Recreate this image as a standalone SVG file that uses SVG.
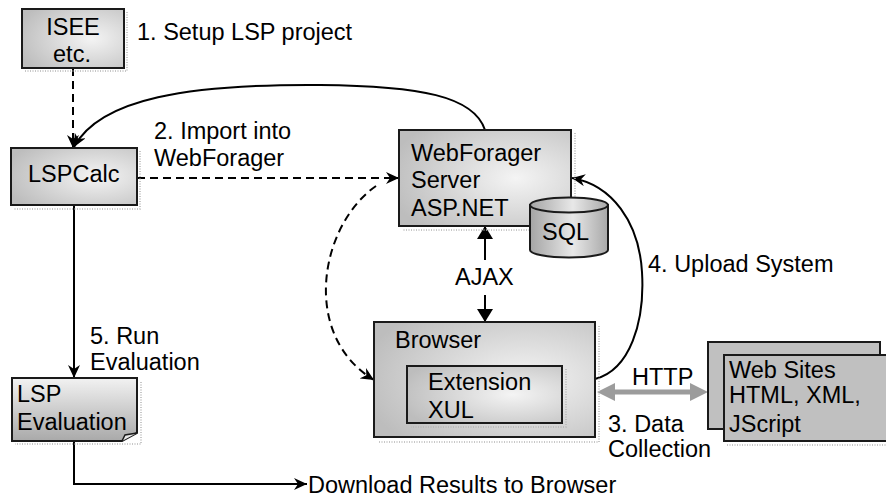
<svg xmlns="http://www.w3.org/2000/svg" width="886" height="497" viewBox="0 0 886 497">
  <defs>
    <radialGradient id="boxFill" cx="0.68" cy="0.5" r="0.75">
      <stop offset="0" stop-color="#f4f4f4"/>
      <stop offset="1" stop-color="#bdbdbd"/>
    </radialGradient>
    <linearGradient id="docFill" x1="0" y1="0" x2="0" y2="1">
      <stop offset="0" stop-color="#f2f2f2"/>
      <stop offset="1" stop-color="#a9a9a9"/>
    </linearGradient>
    <linearGradient id="cylFill" x1="0" y1="0" x2="1" y2="0">
      <stop offset="0" stop-color="#a4a4a4"/>
      <stop offset="0.55" stop-color="#e8e8e8"/>
      <stop offset="1" stop-color="#a8a8a8"/>
    </linearGradient>
    <marker id="barb" viewBox="0 0 13 12" refX="13" refY="6" markerWidth="13" markerHeight="12" markerUnits="userSpaceOnUse" orient="auto">
      <path d="M0,0 L13,6 L0,12 L4,6 Z" fill="#000"/>
    </marker>
    <marker id="tri" viewBox="0 0 13 16" refX="13" refY="8" markerWidth="13" markerHeight="16" markerUnits="userSpaceOnUse" orient="auto">
      <path d="M0,0 L13,8 L0,16 Z" fill="#000"/>
    </marker>
  </defs>
  <style>
    text { font-family: "Liberation Sans", Arial, sans-serif; font-size: 23.5px; fill: #000; }
    .box { fill: url(#boxFill); stroke: #1a1a1a; stroke-width: 2; }
    .shadow { fill: none; stroke: #b5b5b5; stroke-width: 1.5; stroke-dasharray: 1 1.5; }
    .site { fill: #c0c0c0; stroke: #1a1a1a; stroke-width: 2; }
    .line { fill: none; stroke: #000; stroke-width: 2; }
    .dash { fill: none; stroke: #000; stroke-width: 2; stroke-dasharray: 8 5; }
  </style>

  <rect width="886" height="497" fill="#fff"/>

  <!-- connectors -->
  <g id="connectors">
    <path class="dash" d="M73,68 V148" marker-end="url(#barb)"/>
    <path class="line" d="M485,130 C474,96 420,86 320,85 C190,84 100,98 74,147" marker-end="url(#barb)"/>
    <path class="dash" d="M137,178 H399" marker-end="url(#barb)"/>
    <path class="dash" d="M376,186 C320,225 300,335 374,380" marker-end="url(#barb)"/>
    <path class="line" d="M74,205 V378" marker-end="url(#barb)"/>
    <path class="line" d="M74,441 V484 H307" marker-end="url(#barb)"/>
    <path class="line" d="M485,260 V226" marker-end="url(#tri)"/>
    <path class="line" d="M485,295 V322" marker-end="url(#tri)"/>
    <path class="line" d="M595,379 C630,370 645,322 642,272 C639,222 612,185 572,178" marker-end="url(#barb)"/>
    <path d="M597,392 L615,383 L615,389.5 L690,389.5 L690,383 L708,392 L690,401 L690,394.5 L615,394.5 L615,401 Z" fill="#9c9c9c"/>
  </g>

  <!-- labels -->
  <g id="labels">
    <text x="137" y="40">1. Setup LSP project</text>
    <text x="154" y="139">2. Import into</text>
    <text x="154" y="166">WebForager</text>
    <text x="455" y="285">AJAX</text>
    <text x="648" y="272">4. Upload System</text>
    <text x="632" y="385">HTTP</text>
    <text x="608" y="432">3. Data</text>
    <text x="608" y="457">Collection</text>
    <text x="90" y="344">5. Run</text>
    <text x="90" y="370">Evaluation</text>
    <text x="308" y="493">Download Results to Browser</text>
  </g>

  <g id="isee">
    <path class="shadow" d="M127,12 V71 H25"/>
    <rect class="box" x="22" y="9" width="102" height="59"/>
    <text x="73" y="35" text-anchor="middle">ISEE</text>
    <text x="72" y="62" text-anchor="middle">etc.</text>
  </g>

  <g id="lspcalc">
    <path class="shadow" d="M140,151 V209 H14"/>
    <rect class="box" x="11" y="148" width="126" height="57"/>
    <text x="28" y="182">LSPCalc</text>
  </g>

  <g id="server">
    <path class="shadow" d="M575,133 V230 H402"/>
    <rect class="box" x="399" y="130" width="172" height="96"/>
    <text x="411" y="161">WebForager</text>
    <text x="411" y="188">Server</text>
    <text x="411" y="216">ASP.NET</text>
  </g>

  <g id="sql">
    <path d="M530,205 V250 A39,7.5 0 0 0 608,250 V205 Z" fill="url(#cylFill)" stroke="#1a1a1a" stroke-width="2"/>
    <ellipse cx="569" cy="205" rx="39" ry="7.5" fill="url(#cylFill)" stroke="#1a1a1a" stroke-width="2"/>
    <text x="542" y="240">SQL</text>
  </g>

  <g id="browser">
    <path class="shadow" d="M599,326 V442 H378"/>
    <rect class="box" x="374" y="322" width="221" height="115"/>
    <text x="395" y="348">Browser</text>
    <g id="extension">
      <path class="shadow" d="M566,369 V427 H411"/>
      <rect class="box" x="407" y="366" width="155" height="57"/>
      <text x="428" y="390">Extension</text>
      <text x="428" y="418">XUL</text>
    </g>
  </g>

  <g id="websites">
    <rect class="site" x="708" y="342" width="172" height="87"/>
    <path class="shadow" d="M727,445 H886"/>
    <rect class="site" x="724" y="355" width="170" height="86"/>
    <text x="729" y="378">Web Sites</text>
    <text x="729" y="403">HTML, XML,</text>
    <text x="729" y="432">JScript</text>
  </g>

  <g id="lspeval">
    <path class="shadow" d="M141,382 V444 H15"/>
    <path d="M12,378 H137 V433 L122,441 H12 Z" fill="url(#docFill)" stroke="#1a1a1a" stroke-width="2"/>
    <path d="M122,441 L125,435 L137,433" fill="#e8e8e8" stroke="#1a1a1a" stroke-width="1.5"/>
    <text x="17" y="402">LSP</text>
    <text x="17" y="430">Evaluation</text>
  </g>
</svg>
